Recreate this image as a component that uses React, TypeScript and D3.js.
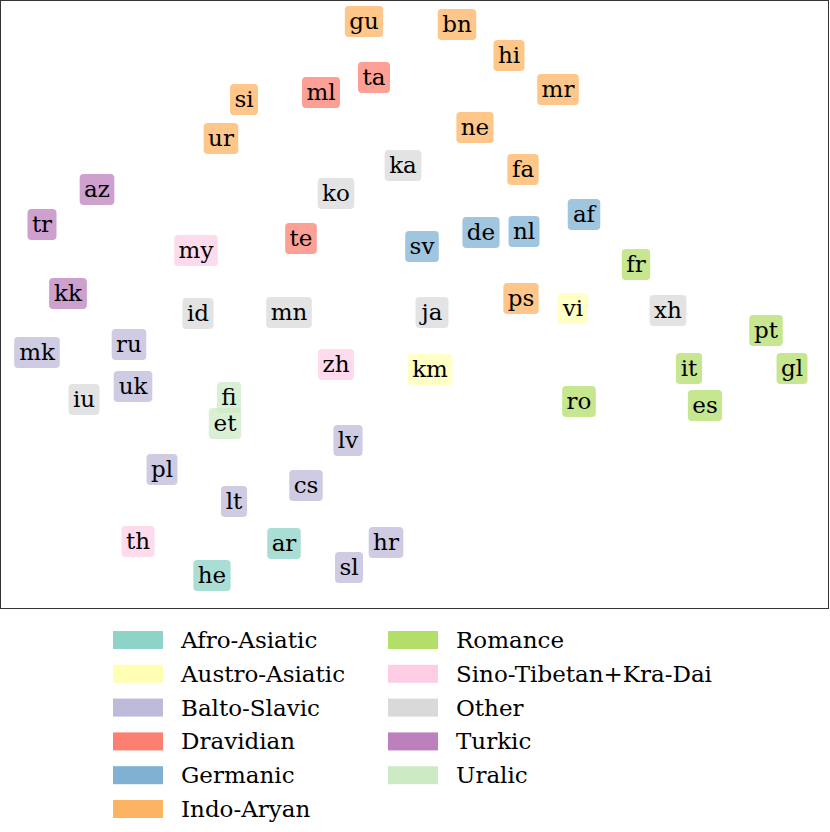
import React, { useEffect, useRef } from "react";
import * as d3 from "d3";

const families = [
  "Afro-Asiatic", "Austro-Asiatic", "Balto-Slavic", "Dravidian", "Germanic", "Indo-Aryan",
  "Romance", "Sino-Tibetan+Kra-Dai", "Other", "Turkic", "Uralic",
];
const familyColors = [
  "#8dd3c7", "#ffffb3", "#bebada", "#fb8072", "#80b1d3", "#fdb462",
  "#b3de69", "#fccde5", "#d9d9d9", "#bc80bd", "#ccebc5",
];

const langs = ["gu","bn","hi","ta","mr","ml","si","ne","ur","ka","fa","az","ko","af","tr","de","nl","sv","my","te","fr","kk","ps","vi","id","mn","ja","xh","pt","ru","mk","zh","km","it","gl","uk","iu","fi","et","ro","es","lv","pl","cs","lt","th","ar","hr","he","sl"];
const langFamily = ["Indo-Aryan","Indo-Aryan","Indo-Aryan","Dravidian","Indo-Aryan","Dravidian","Indo-Aryan","Indo-Aryan","Indo-Aryan","Other","Indo-Aryan","Turkic","Other","Germanic","Turkic","Germanic","Germanic","Germanic","Sino-Tibetan+Kra-Dai","Dravidian","Romance","Turkic","Indo-Aryan","Austro-Asiatic","Other","Other","Other","Other","Romance","Balto-Slavic","Balto-Slavic","Sino-Tibetan+Kra-Dai","Austro-Asiatic","Romance","Romance","Balto-Slavic","Other","Uralic","Uralic","Romance","Romance","Balto-Slavic","Balto-Slavic","Balto-Slavic","Balto-Slavic","Sino-Tibetan+Kra-Dai","Afro-Asiatic","Balto-Slavic","Afro-Asiatic","Balto-Slavic"];
const xVals = [-5.1,4.2,9.4,-4.1,14.3,-9.4,-17.1,6.0,-19.4,-1.2,10.8,-31.8,-7.9,16.9,-37.3,6.6,10.9,0.7,-21.9,-11.4,22.1,-34.7,10.6,15.8,-21.7,-12.6,1.7,25.3,35.1,-28.6,-37.8,-7.9,1.5,27.4,37.7,-28.2,-33.1,-18.6,-19.0,16.4,29.0,-6.7,-25.3,-10.9,-18.1,-27.7,-13.1,-2.9,-20.3,-6.6];
const yVals = [28.3,28.0,24.9,22.7,21.5,21.2,20.5,17.7,16.6,13.9,13.5,11.5,11.1,9.0,8.0,7.2,7.3,5.8,5.4,6.6,4.0,1.1,0.6,-0.4,-0.9,-0.8,-0.8,-0.6,-2.6,-4.0,-4.8,-6.0,-6.5,-6.4,-6.4,-8.2,-9.5,-9.3,-11.9,-9.7,-10.1,-13.6,-16.5,-18.1,-19.7,-23.7,-23.9,-23.8,-27.1,-26.3];

const W = 830, H = 832;
const FONT = "DejaVu Serif";

export default function App() {
  const ref = useRef<SVGSVGElement>(null);
  useEffect(() => {
    const svg = d3.select(ref.current);
    svg.selectAll("*").remove();
    const plot = { left: 0.5, top: 0.5, right: 828.5, bottom: 608.5 };
    const x = d3.scaleLinear().domain([-41.5, 41.5]).range([0, 830]);
    const y = d3.scaleLinear().domain([-30.45, 30.45]).range([609, 0]);
    const color = d3.scaleOrdinal<string, string>().domain(families).range(familyColors);
    const fs = 23;

    const g = svg.append("g");
    langs.forEach((l, i) => {
      const cx = x(xVals[i]);
      const cy = y(yVals[i]);
      const grp = g.append("g");
      const rect = grp.append("rect");
      const t = grp.append("text")
        .attr("x", cx).attr("y", cy + 0.26 * fs + 1.5)
        .attr("text-anchor", "middle")
        .attr("font-family", FONT).attr("font-size", fs)
        .attr("fill", "#000").text(l);
      const bb = (t.node() as SVGTextElement).getBBox();
      const pad = 4.4;
      const h = 31;
      rect.attr("x", cx - bb.width / 2 - pad).attr("y", cy - h / 2)
        .attr("width", bb.width + 2 * pad).attr("height", h)
        .attr("rx", 4).attr("ry", 4)
        .attr("fill", color(langFamily[i])).attr("fill-opacity", 0.75);
    });

    svg.append("rect")
      .attr("x", plot.left).attr("y", plot.top)
      .attr("width", plot.right - plot.left).attr("height", plot.bottom - plot.top)
      .attr("fill", "none").attr("stroke", "#333").attr("stroke-width", 1);

    const leg = svg.append("g");
    const rowH = 33.8;
    const colX = [113, 388];
    families.forEach((f, i) => {
      const col = i < 6 ? 0 : 1;
      const row = i < 6 ? i : i - 6;
      const cy = 640 + row * rowH;
      leg.append("rect")
        .attr("x", colX[col]).attr("y", cy - 9)
        .attr("width", 50).attr("height", 18)
        .attr("fill", color(f));
      leg.append("text")
        .attr("x", colX[col] + 68).attr("y", cy + 0.26 * fs + 2)
        .attr("font-family", FONT).attr("font-size", fs)
        .attr("fill", "#000").text(f);
    });
  }, []);
  return (
    <svg ref={ref} width={W} height={H}
      style={{ position: "absolute", left: 0, top: 0, background: "#fff" }} />
  );
}
